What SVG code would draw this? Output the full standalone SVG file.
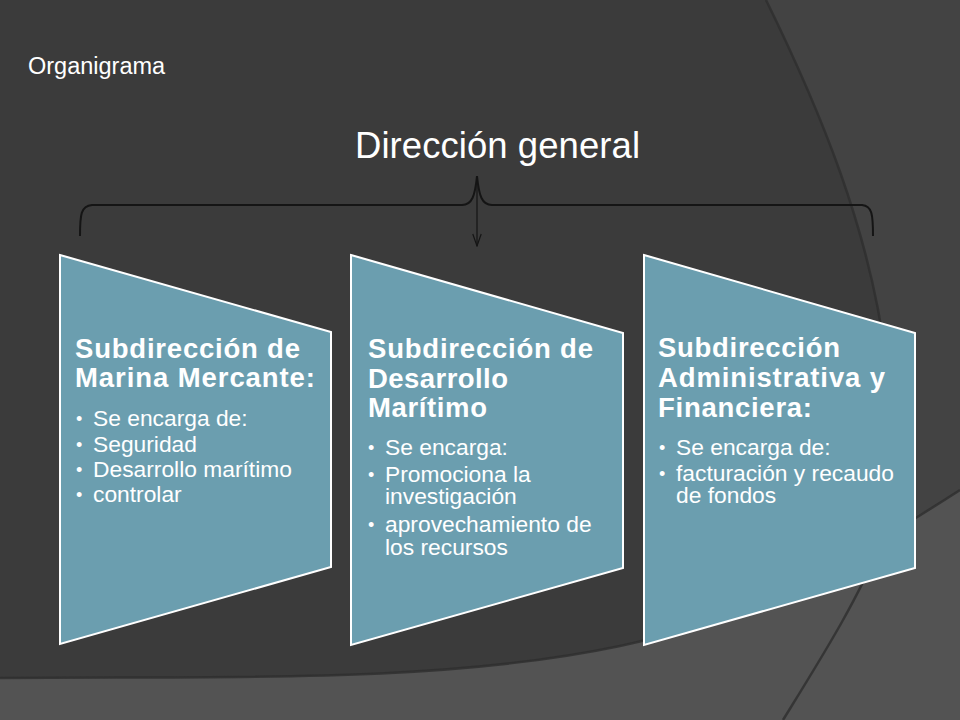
<svg xmlns="http://www.w3.org/2000/svg" width="960" height="720" viewBox="0 0 960 720">
  <defs>
    <style>
      .bg-edge { fill: none; stroke: #2e2e2e; stroke-width: 2.5; opacity: 0.8; }
      .panel { fill: #6b9eaf; stroke: #ffffff; stroke-width: 2; stroke-linejoin: miter; }
      .ttl { font-family: "Liberation Sans", Arial, sans-serif; font-weight: bold; font-size: 27.5px; fill: #ffffff; }
      .bul { font-family: "Liberation Sans", Arial, sans-serif; font-size: 22.8px; fill: #ffffff; }
      .dot { font-family: "Liberation Sans", Arial, sans-serif; font-size: 18px; fill: #ffffff; }
      .head { font-family: "Liberation Sans", Arial, sans-serif; fill: #ffffff; }
      .brace { fill: none; stroke: #151515; stroke-width: 2; }
      .arrow { fill: none; stroke: #151515; stroke-width: 1.2; }
    </style>
    <marker id="openArrow" viewBox="0 0 14 10" refX="13" refY="5" markerWidth="14" markerHeight="10" markerUnits="userSpaceOnUse" orient="auto">
      <path d="M1,0.8 L13,5 L1,9.2" fill="none" stroke="#151515" stroke-width="1.2"/>
    </marker>
  </defs>

  <!-- background -->
  <g id="background">
    <rect x="0" y="0" width="960" height="720" fill="#3b3b3b"/>
    <path d="M766,0 C820,110 870,230 886,360 C895,440 895,500 890,560 L960,560 L960,0 Z" fill="#434343"/>
    <path d="M766,0 C820,110 870,230 886,360 C895,440 895,500 890,560" class="bg-edge"/>
    <path d="M893,528 L960,492 L960,720 L880,720 Z" fill="#4b4b4b"/>
    <path d="M0,678 C220,676 440,684 620,646 C760,616 870,548 960,490 L960,720 L0,720 Z" fill="#535353"/>
    <path d="M0,678 C220,676 440,684 620,646 C760,616 870,548 960,490" class="bg-edge"/>
    <path d="M783,720 C820,660 858,600 882,540" class="bg-edge" opacity="0.6"/>
  </g>

  <!-- heading -->
  <g id="organigrama">
    <text class="head" x="28" y="74" font-size="23.5">Organigrama</text>
  </g>

  <g id="direccion-general">
    <text class="head" x="355" y="158" font-size="36.5" textLength="285" lengthAdjust="spacing">Dirección general</text>
  </g>

  <!-- connectors -->
  <g id="connectors">
    <path class="brace" d="M80,236 C80,214 81,206 92,205 L462,205 C472,205 475,196 477,176 C479,196 482,205 492,205 L862,205 C872,206 873,214 873,236"/>
    <line class="arrow" x1="477" y1="176" x2="477" y2="246" marker-end="url(#openArrow)"/>
  </g>

  <!-- panel 1 -->
  <g id="marina-mercante">
    <polygon class="panel" points="60,255 331,332 331,567 60,644"/>
    <text class="ttl" x="75" y="358" textLength="225" lengthAdjust="spacing">Subdirección de</text>
    <text class="ttl" x="75" y="386.5" textLength="240" lengthAdjust="spacing">Marina Mercante:</text>
    <text class="dot"><tspan x="76" y="425">•</tspan><tspan x="76" y="450.5">•</tspan><tspan x="76" y="476">•</tspan><tspan x="76" y="501">•</tspan></text>
    <text class="bul"><tspan x="93" y="426">Se encarga de:</tspan><tspan x="93" y="451.5">Seguridad</tspan><tspan x="93" y="477">Desarrollo marítimo</tspan><tspan x="93" y="502">controlar</tspan></text>
  </g>

  <!-- panel 2 -->
  <g id="desarrollo-maritimo">
    <polygon class="panel" points="351,255 623,333 623,568 351,645"/>
    <text class="ttl" x="368" y="358" textLength="225" lengthAdjust="spacing">Subdirección de</text>
    <text class="ttl" x="368" y="387.5" textLength="140" lengthAdjust="spacing">Desarrollo</text>
    <text class="ttl" x="368" y="417" textLength="119" lengthAdjust="spacing">Marítimo</text>
    <text class="dot"><tspan x="368" y="454">•</tspan><tspan x="368" y="480.5">•</tspan><tspan x="368" y="531">•</tspan></text>
    <text class="bul"><tspan x="385" y="455">Se encarga:</tspan><tspan x="385" y="481.5">Promociona la</tspan><tspan x="385" y="503.5">investigación</tspan><tspan x="385" y="532">aprovechamiento de</tspan><tspan x="385" y="555">los recursos</tspan></text>
  </g>

  <!-- panel 3 -->
  <g id="administrativa-financiera">
    <polygon class="panel" points="644,255 915,333 915,568 644,645"/>
    <text class="ttl" x="658" y="357" textLength="182" lengthAdjust="spacing">Subdirección</text>
    <text class="ttl" x="658" y="387" textLength="227" lengthAdjust="spacing">Administrativa y</text>
    <text class="ttl" x="658" y="417" textLength="154" lengthAdjust="spacing">Financiera:</text>
    <text class="dot"><tspan x="659" y="454">•</tspan><tspan x="659" y="480">•</tspan></text>
    <text class="bul"><tspan x="676" y="455">Se encarga de:</tspan><tspan x="676" y="481">facturación y recaudo</tspan><tspan x="676" y="503">de fondos</tspan></text>
  </g>
</svg>
